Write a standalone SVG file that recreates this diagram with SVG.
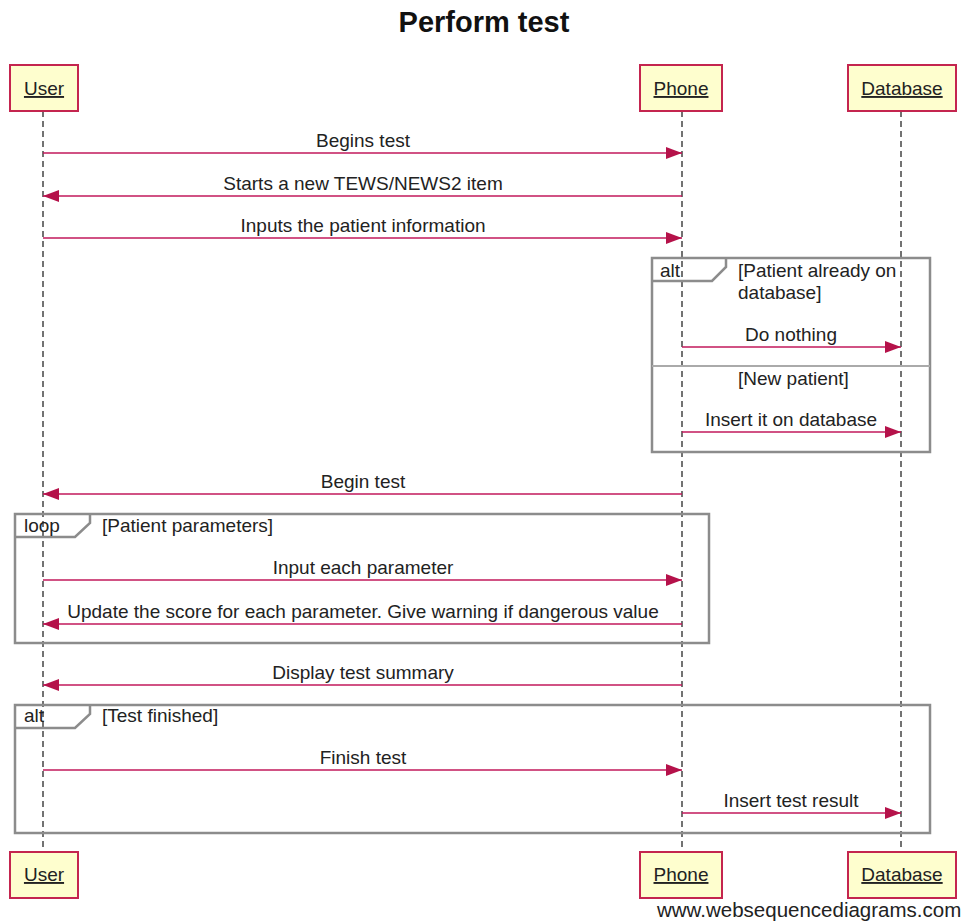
<svg xmlns="http://www.w3.org/2000/svg" width="967" height="921" viewBox="0 0 967 921">
<style>
text{font-family:"Liberation Sans",Arial,sans-serif;font-size:19px;fill:#222}
.title{font-size:29px;font-weight:bold;fill:#111}
.pbox{fill:#fefece;stroke:#c4254f;stroke-width:2}
.plab{text-decoration:underline;text-anchor:middle}
.life{stroke:#444;stroke-width:1.5;stroke-dasharray:6,4;fill:none}
.msg{stroke:#c2185b;stroke-width:1.6;fill:none}
.mlab{text-anchor:middle}
.frame{fill:none;stroke:#8c8c8c;stroke-width:2.5}
.div{stroke:#aaa;stroke-width:2}
</style>
<defs>
<marker id="ah" viewBox="0 0 16 12" refX="16" refY="6" markerWidth="16" markerHeight="12" markerUnits="userSpaceOnUse" orient="auto">
<path d="M0,0 L16,6 L0,12 Z" fill="#b5124a"/>
</marker>
</defs>
<rect width="967" height="921" fill="#fff"/>
<text class="title" x="484" y="32" text-anchor="middle">Perform test</text>
<g id="lifelines">
<line class="life" x1="43" y1="111" x2="43" y2="852"/>
<line class="life" x1="682" y1="111" x2="682" y2="852"/>
<line class="life" x1="901" y1="111" x2="901" y2="852"/>
</g>
<g id="frames">
<g id="alt1">
<rect class="frame" x="652" y="258" width="278" height="194"/>
<path class="frame" d="M652,281 L712,281 L726,267 L726,258"/>
<text x="660" y="277">alt</text>
<text x="738" y="277">[Patient already on</text>
<text x="738" y="299">database]</text>
<line class="div" x1="652" y1="366" x2="930" y2="366"/>
<text x="738" y="385">[New patient]</text>
</g>
<g id="loop">
<rect class="frame" x="15" y="514" width="694" height="129"/>
<path class="frame" d="M15,537 L75,537 L90,523 L90,514"/>
<text x="24" y="532">loop</text>
<text x="102" y="532">[Patient parameters]</text>
</g>
<g id="alt2">
<rect class="frame" x="15" y="705" width="915" height="128"/>
<path class="frame" d="M15,728 L75,728 L90,714 L90,705"/>
<text x="24" y="722">alt</text>
<text x="102" y="722">[Test finished]</text>
</g>
</g>
<g id="connectors">
<line class="msg" x1="43" y1="153" x2="682" y2="153" marker-end="url(#ah)"/>
<text class="mlab" x="363" y="147">Begins test</text>
<line class="msg" x1="682" y1="196" x2="43" y2="196" marker-end="url(#ah)"/>
<text class="mlab" x="363" y="190">Starts a new TEWS/NEWS2 item</text>
<line class="msg" x1="43" y1="238" x2="682" y2="238" marker-end="url(#ah)"/>
<text class="mlab" x="363" y="232">Inputs the patient information</text>
<line class="msg" x1="682" y1="347" x2="901" y2="347" marker-end="url(#ah)"/>
<text class="mlab" x="791" y="341">Do nothing</text>
<line class="msg" x1="682" y1="432" x2="901" y2="432" marker-end="url(#ah)"/>
<text class="mlab" x="791" y="426">Insert it on database</text>
<line class="msg" x1="682" y1="494" x2="43" y2="494" marker-end="url(#ah)"/>
<text class="mlab" x="363" y="488">Begin test</text>
<line class="msg" x1="43" y1="580" x2="682" y2="580" marker-end="url(#ah)"/>
<text class="mlab" x="363" y="574">Input each parameter</text>
<line class="msg" x1="682" y1="624" x2="43" y2="624" marker-end="url(#ah)"/>
<text class="mlab" x="363" y="618">Update the score for each parameter. Give warning if dangerous value</text>
<line class="msg" x1="682" y1="685" x2="43" y2="685" marker-end="url(#ah)"/>
<text class="mlab" x="363" y="679">Display test summary</text>
<line class="msg" x1="43" y1="770" x2="682" y2="770" marker-end="url(#ah)"/>
<text class="mlab" x="363" y="764">Finish test</text>
<line class="msg" x1="682" y1="813" x2="901" y2="813" marker-end="url(#ah)"/>
<text class="mlab" x="791" y="807">Insert test result</text>
</g>
<g id="user-top"><rect class="pbox" x="10" y="65" width="68" height="46"/><text class="plab" x="44" y="95">User</text></g>
<g id="phone-top"><rect class="pbox" x="640" y="65" width="82" height="46"/><text class="plab" x="681" y="95">Phone</text></g>
<g id="database-top"><rect class="pbox" x="848" y="65" width="108" height="46"/><text class="plab" x="902" y="95">Database</text></g>
<g id="user-bottom"><rect class="pbox" x="10" y="852" width="68" height="46"/><text class="plab" x="44" y="881">User</text></g>
<g id="phone-bottom"><rect class="pbox" x="640" y="852" width="82" height="46"/><text class="plab" x="681" y="881">Phone</text></g>
<g id="database-bottom"><rect class="pbox" x="848" y="852" width="108" height="46"/><text class="plab" x="902" y="881">Database</text></g>
<text x="657" y="917" style="font-size:20.5px">www.websequencediagrams.com</text>
</svg>
